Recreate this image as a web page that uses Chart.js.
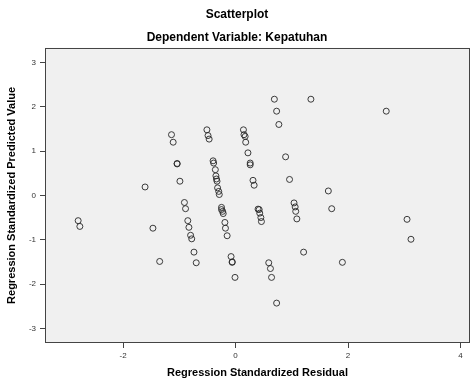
<!DOCTYPE html>
<html>
<head>
<meta charset="utf-8">
<script src="https://cdn.jsdelivr.net/npm/chart.js@4/dist/chart.umd.min.js"></script>
<style>
  body { margin: 0; background: #fff; }
</style>
</head>
<body>
<canvas id="scatterChart" width="475" height="382"></canvas>
<script>
// residual (x) and predicted value (y), both standardized
const residuals = [
    -2.80, -2.77, -1.61, -1.47, -1.35, -1.14, -1.11, -1.04, -1.04, -0.99,
    -0.91, -0.89, -0.85, -0.83, -0.80, -0.78, -0.74, -0.70, -0.51, -0.49,
    -0.47, -0.40, -0.39, -0.36, -0.35, -0.34, -0.33, -0.32, -0.30, -0.29,
    -0.25, -0.25, -0.23, -0.22, -0.19, -0.18, -0.15, -0.08, -0.06, -0.06,
    -0.01, 0.14, 0.15, 0.17, 0.18, 0.22, 0.26, 0.26, 0.31, 0.33,
    0.40, 0.42, 0.43, 0.45, 0.46, 0.59, 0.62, 0.64, 0.69, 0.73,
    0.73, 0.77, 0.89, 0.96, 1.04, 1.06, 1.07, 1.09, 1.21, 1.34,
    1.65, 1.71, 1.90, 2.68, 3.05, 3.12
];
const predicted = [
    -0.57, -0.70, 0.19, -0.74, -1.49, 1.37, 1.20, 0.72, 0.71, 0.32,
    -0.16, -0.30, -0.57, -0.72, -0.90, -0.98, -1.28, -1.52, 1.48, 1.35,
    1.27, 0.78, 0.73, 0.58, 0.44, 0.37, 0.32, 0.17, 0.09, 0.02,
    -0.27, -0.32, -0.36, -0.41, -0.61, -0.74, -0.91, -1.38, -1.50, -1.51,
    -1.85, 1.48, 1.37, 1.33, 1.20, 0.96, 0.73, 0.69, 0.34, 0.23,
    -0.31, -0.32, -0.40, -0.50, -0.59, -1.52, -1.65, -1.85, 2.17, 1.90,
    -2.43, 1.60, 0.87, 0.36, -0.17, -0.26, -0.36, -0.53, -1.28, 2.17,
    0.10, -0.30, -1.51, 1.90, -0.54, -0.99
];
const xTicks = [-2, 0, 2, 4];
const yTicks = [-3, -2, -1, 0, 1, 2, 3];

const fontFamily = "Arial, 'Liberation Sans', sans-serif";

// grey plot area and frame like SPSS output
const plotFrame = {
    id: 'plotFrame',
    beforeDraw(chart) {
        const { ctx, chartArea: a } = chart;
        ctx.save();
        ctx.fillStyle = '#f0f0f0';
        ctx.fillRect(a.left, a.top, a.right - a.left, a.bottom - a.top);
        ctx.restore();
    },
    afterDatasetsDraw(chart) {
        const { ctx, chartArea: a } = chart;
        ctx.save();
        ctx.strokeStyle = '#444';
        ctx.lineWidth = 1;
        ctx.strokeRect(Math.round(a.left) + 0.5, Math.round(a.top) + 0.5,
            Math.round(a.right - a.left) - 1, Math.round(a.bottom - a.top) - 1);
        ctx.restore();
    }
};

const points = residuals.map((x, i) => ({ x: x, y: predicted[i] }));

const ctx = document.getElementById('scatterChart').getContext('2d');
new Chart(ctx, {
    type: 'scatter',
    data: {
        datasets: [{
            data: points,
            pointStyle: 'circle',
            pointRadius: 3,
            pointBorderWidth: 1,
            borderColor: 'rgba(40, 40, 40, 0.9)',
            backgroundColor: 'rgba(0, 0, 0, 0)'
        }]
    },
    options: {
        responsive: false,
        animation: false,
        layout: { padding: { right: 1 } },
        plugins: {
            legend: { display: false },
            tooltip: { enabled: false },
            title: {
                display: true,
                text: 'Scatterplot',
                color: '#000',
                font: { family: fontFamily, size: 12, weight: 'bold' },
                padding: { top: 7, bottom: 9 }
            },
            subtitle: {
                display: true,
                text: 'Dependent Variable: Kepatuhan',
                color: '#000',
                font: { family: fontFamily, size: 12, weight: 'bold' },
                padding: { top: 0, bottom: 3 }
            }
        },
        scales: {
            x: {
                type: 'linear',
                min: -3.39,
                max: 4.17,
                afterBuildTicks: axis => { axis.ticks = xTicks.map(v => ({ value: v })); },
                afterFit: axis => { axis.height = 39; },
                border: { display: false },
                grid: { drawOnChartArea: false, tickLength: 5, color: '#444' },
                ticks: {
                    color: '#333',
                    font: { family: fontFamily, size: 8 },
                    padding: 3,
                    maxRotation: 0
                },
                title: {
                    display: true,
                    text: 'Regression Standardized Residual',
                    color: '#000',
                    font: { family: fontFamily, size: 11, weight: 'bold' },
                    padding: { top: 0, bottom: 2 }
                }
            },
            y: {
                type: 'linear',
                min: -3.33,
                max: 3.33,
                afterBuildTicks: axis => { axis.ticks = yTicks.map(v => ({ value: v })); },
                afterFit: axis => { axis.width = 45; },
                border: { display: false },
                grid: { drawOnChartArea: false, tickLength: 5, color: '#444' },
                ticks: {
                    color: '#333',
                    font: { family: fontFamily, size: 8 },
                    padding: 4
                },
                title: {
                    display: true,
                    text: 'Regression Standardized Predicted Value',
                    color: '#000',
                    font: { family: fontFamily, size: 11, weight: 'bold' },
                    padding: { top: 5, bottom: 0 }
                }
            }
        }
    },
    plugins: [plotFrame]
});
</script>
</body>
</html>
